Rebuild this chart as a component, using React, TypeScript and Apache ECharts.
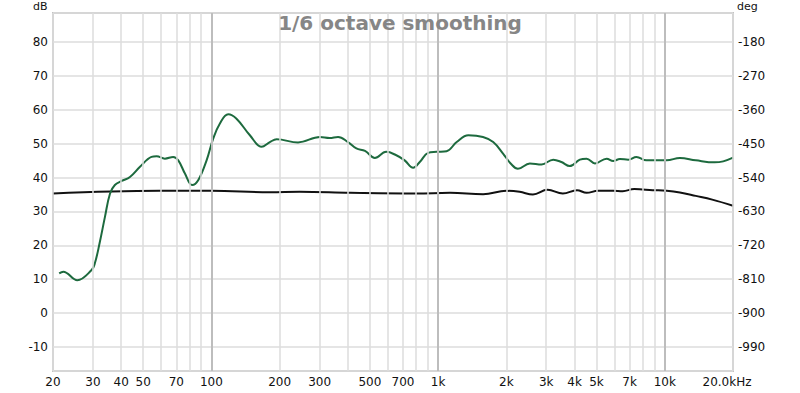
import React, { useEffect, useRef } from "react";
import * as echarts from "echarts";

// Green trace (Hz, dB)
const splFreqs = [21.3, 22.2, 25.6, 29.6, 30.6, 32.1, 33.9, 35.7, 37.5, 40.2, 43.7, 48.4, 54.4, 57.3, 62.3, 67.8, 71.4, 76.4, 82.2, 87.4, 95.2, 101.8, 109, 118.6, 129, 147.8, 166.6, 181, 194, 241, 301, 332, 362, 400, 436, 476, 526, 590, 654, 712, 776, 830, 904, 984, 1090, 1208, 1360, 1578, 1750, 1934, 2100, 2250, 2540, 2860, 3220, 3500, 3810, 4220, 4520, 4920, 5540, 5920, 6340, 6900, 7500, 8300, 10200, 11660, 13700, 16600, 18100, 20000];
const splValues = [11.7, 12.2, 9.7, 12.7, 14.7, 20.6, 28.4, 35.3, 37.8, 39.0, 40.2, 43.2, 46.1, 46.3, 45.6, 46.1, 45.1, 41.2, 37.8, 39.2, 45.1, 51.5, 56.0, 58.7, 57.4, 52.5, 49.1, 50.5, 51.3, 50.4, 52.0, 51.7, 52.0, 50.5, 48.6, 47.9, 45.8, 47.6, 46.6, 45.1, 42.9, 44.6, 47.3, 47.6, 47.8, 50.5, 52.5, 52.0, 50.5, 47.1, 44.0, 42.6, 44.2, 43.9, 45.3, 44.6, 43.4, 45.3, 45.6, 44.2, 45.6, 44.9, 45.5, 45.3, 46.1, 45.1, 45.1, 45.8, 45.1, 44.5, 44.8, 45.9];

// Black trace (Hz, dB)
const blackFreqs = [20, 59, 100, 181, 245, 410, 800, 1130, 1580, 2000, 2290, 2620, 3040, 3550, 4100, 4520, 5070, 5920, 6520, 7340, 8850, 10200, 11660, 13700, 16200, 20000];
const blackValues = [35.3, 36.1, 36.1, 35.7, 35.8, 35.5, 35.3, 35.5, 35.1, 36.1, 35.8, 35.0, 36.4, 35.3, 36.3, 35.5, 36.1, 36.1, 36.0, 36.6, 36.3, 36.1, 35.6, 34.6, 33.5, 31.7];

// X grid & labels
const gridFreqs = [20, 30, 40, 50, 60, 70, 80, 90, 100, 200, 300, 400, 500, 600, 700, 800, 900, 1000, 2000, 3000, 4000, 5000, 6000, 7000, 8000, 9000, 10000, 20000];
const decadeFreqs = [100, 1000, 10000];
const labelFreqs = [20, 30, 40, 50, 70, 100, 200, 300, 500, 700, 1000, 2000, 3000, 4000, 5000, 7000, 10000, 20000];
const labelTexts = ["20", "30", "40", "50", "70", "100", "200", "300", "500", "700", "1k", "2k", "3k", "4k", "5k", "7k", "10k", "20.0kHz"];

const dbMin = -17.1;
const dbMax = 88.6;
const degPerDb = 9;
const degOffset = -900;

const FONT = "DejaVu Sans, Verdana, sans-serif";

export default function App() {
  const ref = useRef<HTMLDivElement>(null);
  useEffect(() => {
    if (!ref.current) return;
    const chart = echarts.init(ref.current, undefined, { renderer: "svg" });
    const mlData = gridFreqs.map((f) => {
      const li = labelFreqs.indexOf(f);
      const isDecade = decadeFreqs.indexOf(f) >= 0;
      return {
        xAxis: f,
        lineStyle: { color: isDecade ? "#bdbdbd" : "#dcdcdc", width: isDecade ? 2 : 1.5, type: "solid" },
        label: {
          show: li >= 0,
          formatter: li >= 0 ? labelTexts[li] : "",
          position: "start",
          distance: 5,
          color: "#111",
          fontSize: 12,
          fontFamily: FONT,
          offset: f === 20000 ? [-6, 0] : [0, 0],
        },
      };
    });
    const isMult10 = (v: number) => Math.abs(Math.round(v / 10) * 10 - v) < 1e-6;
    chart.setOption({
      animation: false,
      backgroundColor: "#fff",
      title: {
        text: "1/6 octave smoothing",
        left: "center",
        top: 8,
        textStyle: { fontSize: 20, fontWeight: "bold", color: "#868686", fontFamily: FONT },
      },
      graphic: [
        { type: "text", left: 33, top: 1, style: { text: "dB", font: `11px ${FONT}`, fill: "#111" } },
        { type: "text", left: 737, top: 1, style: { text: "deg", font: `11px ${FONT}`, fill: "#111" } },
      ],
      grid: {
        left: 53,
        right: 67,
        top: 13,
        bottom: 22,
        show: true,
        borderColor: "#c2c2c2",
        borderWidth: 2,
      },
      xAxis: {
        type: "log",
        logBase: 10,
        min: 20,
        max: 20000,
        axisLabel: { show: false },
        axisLine: { show: false },
        axisTick: { show: false },
        splitLine: { show: false },
        minorSplitLine: { show: false },
      },
      yAxis: [
        {
          type: "value",
          min: dbMin,
          max: dbMax,
          splitNumber: 10,
          axisLine: { show: false },
          axisTick: { show: false },
          axisLabel: {
            margin: 5,
            color: "#111",
            fontSize: 12,
            fontFamily: FONT,
            showMinLabel: false,
            showMaxLabel: false,
            formatter: (v: number) => (isMult10(v) ? String(Math.round(v)) : ""),
          },
          splitLine: { show: true, lineStyle: { color: "#dcdcdc", width: 1.5 } },
        },
        {
          type: "value",
          position: "right",
          min: dbMin,
          max: dbMax,
          splitNumber: 10,
          axisLine: { show: false },
          axisTick: { show: false },
          axisLabel: {
            margin: 5,
            color: "#111",
            fontSize: 12,
            fontFamily: FONT,
            showMinLabel: false,
            showMaxLabel: false,
            formatter: (v: number) => (isMult10(v) ? String(Math.round(v * degPerDb + degOffset)) : ""),
          },
          splitLine: { show: false },
        },
      ],
      series: [
        {
          type: "line",
          name: "grid",
          data: [],
          silent: true,
          z: 1,
          markLine: {
            silent: true,
            symbol: ["none", "none"],
            animation: false,
            data: mlData,
          },
        },
        {
          type: "line",
          name: "black",
          data: blackFreqs.map((f, i) => [f, blackValues[i]]),
          showSymbol: false,
          smooth: 0.4,
          lineStyle: { color: "#111", width: 2 },
          z: 3,
        },
        {
          type: "line",
          name: "spl",
          data: splFreqs.map((f, i) => [f, splValues[i]]),
          showSymbol: false,
          smooth: 0.4,
          lineStyle: { color: "#1d6a3e", width: 2 },
          z: 4,
        },
      ],
    });
    return () => chart.dispose();
  }, []);
  return <div ref={ref} style={{ width: 800, height: 393, position: "absolute", left: 0, top: 0 }} />;
}
